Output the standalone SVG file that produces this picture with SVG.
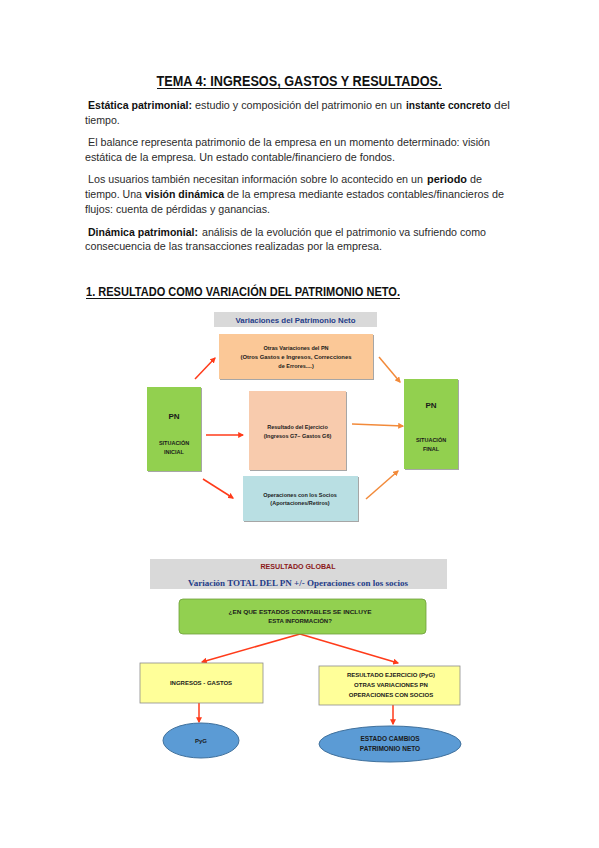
<svg xmlns="http://www.w3.org/2000/svg" width="599" height="848" viewBox="0 0 599 848">
<defs>
<style>
.body{font-family:"Liberation Sans",Arial,sans-serif;font-size:10.6px;fill:#2b2b2b}
.b{font-weight:bold;fill:#111;font-size:10.2px}
.h{font-family:"Liberation Sans",Arial,sans-serif;font-weight:bold;fill:#111}
.t{font-family:"Liberation Sans",Arial,sans-serif;font-weight:bold;fill:#1a1a1a;text-anchor:middle}
.red{stroke:#ff3b1a;stroke-width:1.5;fill:none}
.org{stroke:#f28a3a;stroke-width:1.5;fill:none}
</style>
<marker id="ar" viewBox="0 0 10 10" refX="8" refY="5" markerWidth="4" markerHeight="4" orient="auto"><path d="M0,0L10,5L0,10z" fill="#ff3b1a"/></marker>
<marker id="ao" viewBox="0 0 10 10" refX="8" refY="5" markerWidth="4" markerHeight="4" orient="auto"><path d="M0,0L10,5L0,10z" fill="#f28a3a"/></marker>
<filter id="sh" x="-5%" y="-5%" width="115%" height="120%"><feDropShadow dx="1" dy="1" stdDeviation="0.6" flood-color="#000" flood-opacity="0.35"/></filter>
</defs>
<rect width="599" height="848" fill="#fff"/>

<g id="texto">
<text class="h" x="299" y="86" font-size="14" text-anchor="middle" textLength="285" lengthAdjust="spacingAndGlyphs">TEMA 4: INGRESOS, GASTOS Y RESULTADOS.</text>
<line x1="157" y1="88.5" x2="442" y2="88.5" stroke="#111" stroke-width="1"/>
<text class="body b" x="88" y="109" textLength="104" lengthAdjust="spacingAndGlyphs">Estática patrimonial:</text>
<text class="body" x="195" y="109" textLength="207" lengthAdjust="spacingAndGlyphs">estudio y composición del patrimonio en un</text>
<text class="body b" x="406" y="109" textLength="85" lengthAdjust="spacingAndGlyphs">instante concreto</text>
<text class="body" x="494" y="109" textLength="16" lengthAdjust="spacingAndGlyphs">del</text>
<text class="body" x="85" y="124">tiempo.</text>
<text class="body" x="88" y="146" textLength="402" lengthAdjust="spacingAndGlyphs">El balance representa patrimonio de la empresa en un momento determinado: visión</text>
<text class="body" x="85" y="161" textLength="310" lengthAdjust="spacingAndGlyphs">estática de la empresa. Un estado contable/financiero de fondos.</text>
<text class="body" x="88" y="183" textLength="335" lengthAdjust="spacingAndGlyphs">Los usuarios también necesitan información sobre lo acontecido en un</text>
<text class="body b" x="427" y="183" textLength="40" lengthAdjust="spacingAndGlyphs">periodo</text>
<text class="body" x="470" y="183" textLength="12" lengthAdjust="spacingAndGlyphs">de</text>
<text class="body" x="85" y="198" textLength="57" lengthAdjust="spacingAndGlyphs">tiempo. Una</text>
<text class="body b" x="145" y="198" textLength="79" lengthAdjust="spacingAndGlyphs">visión dinámica</text>
<text class="body" x="227" y="198" textLength="277" lengthAdjust="spacingAndGlyphs">de la empresa mediante estados contables/financieros de</text>
<text class="body" x="85" y="213" textLength="185" lengthAdjust="spacingAndGlyphs">flujos: cuenta de pérdidas y ganancias.</text>
<text class="body b" x="88" y="236" textLength="110" lengthAdjust="spacingAndGlyphs">Dinámica patrimonial:</text>
<text class="body" x="202" y="236" textLength="284" lengthAdjust="spacingAndGlyphs">análisis de la evolución que el patrimonio va sufriendo como</text>
<text class="body" x="85" y="250" textLength="297" lengthAdjust="spacingAndGlyphs">consecuencia de las transacciones realizadas por la empresa.</text>
<text class="h" x="86" y="296" font-size="13" textLength="314" lengthAdjust="spacingAndGlyphs">1. RESULTADO COMO VARIACIÓN DEL PATRIMONIO NETO.</text>
<line x1="86" y1="298.5" x2="400" y2="298.5" stroke="#111" stroke-width="1"/>
</g>

<g id="conectores">
<line class="red" x1="195" y1="379" x2="215" y2="358" marker-end="url(#ar)"/>
<line class="org" x1="379" y1="357" x2="400" y2="382" marker-end="url(#ao)"/>
<line class="red" x1="206" y1="435" x2="243" y2="435" marker-end="url(#ar)"/>
<line class="org" x1="352" y1="424" x2="403" y2="426" marker-end="url(#ao)"/>
<line class="red" x1="203" y1="479" x2="233" y2="498" marker-end="url(#ar)"/>
<line class="org" x1="366" y1="499" x2="398" y2="471" marker-end="url(#ao)"/>
<line class="red" x1="300" y1="634" x2="202" y2="662" marker-end="url(#ar)"/>
<line class="red" x1="300" y1="634" x2="398" y2="663" marker-end="url(#ar)"/>
<line class="red" x1="199" y1="703" x2="199" y2="722" marker-end="url(#ar)"/>
<line class="red" x1="393" y1="705" x2="393" y2="724" marker-end="url(#ar)"/>
</g>

<g id="titulo-variaciones">
<rect x="214" y="312" width="163" height="15" fill="#d9d9d9"/>
<text x="295.5" y="322.5" font-family="Liberation Sans,Arial,sans-serif" font-weight="bold" font-size="7.5" fill="#1f3c88" text-anchor="middle" textLength="120" lengthAdjust="spacingAndGlyphs">Variaciones del Patrimonio Neto</text>
</g>

<g id="otras-variaciones">
<rect x="219" y="334" width="154" height="45" fill="#fbc897" filter="url(#sh)"/>
<text class="t" font-size="5.5" x="296" y="350">Otras Variaciones del PN</text>
<text class="t" font-size="5.5" x="296" y="359" textLength="111" lengthAdjust="spacingAndGlyphs">(Otros Gastos e Ingresos, Correcciones</text>
<text class="t" font-size="5.5" x="296" y="368">de Errores....)</text>
</g>

<g id="pn-inicial">
<rect x="147" y="387" width="54" height="84" fill="#92d050" filter="url(#sh)"/>
<text class="t" font-size="8" x="174" y="419">PN</text>
<text class="t" font-size="5.5" x="174" y="445">SITUACIÓN</text>
<text class="t" font-size="5.5" x="174" y="454">INICIAL</text>
</g>

<g id="resultado-ejercicio">
<rect x="249" y="391" width="97" height="79" fill="#f8cbad" filter="url(#sh)"/>
<text class="t" font-size="5.5" x="297.5" y="429">Resultado del Ejercicio</text>
<text class="t" font-size="5.5" x="297.5" y="438">(Ingresos G7– Gastos G6)</text>
</g>

<g id="pn-final">
<rect x="404" y="379" width="54" height="90" fill="#92d050" filter="url(#sh)"/>
<text class="t" font-size="8" x="431" y="408">PN</text>
<text class="t" font-size="5.5" x="431" y="442">SITUACIÓN</text>
<text class="t" font-size="5.5" x="431" y="451">FINAL</text>
</g>

<g id="operaciones-socios">
<rect x="243" y="476" width="115" height="45" fill="#b9dfe3" filter="url(#sh)"/>
<text class="t" font-size="5.5" x="300" y="497">Operaciones con los Socios</text>
<text class="t" font-size="5.5" x="300" y="505">(Aportaciones/Retiros)</text>
</g>

<g id="resultado-global">
<rect x="150" y="559" width="297" height="30" fill="#d9d9d9"/>
<text x="298" y="568.5" font-family="Liberation Sans,Arial,sans-serif" font-weight="bold" font-size="7" fill="#8b1a1a" text-anchor="middle" textLength="75" lengthAdjust="spacingAndGlyphs">RESULTADO GLOBAL</text>
<text x="298" y="586" font-family="Liberation Serif,Times New Roman,serif" font-weight="bold" font-size="8.5" fill="#1f3c88" text-anchor="middle" textLength="220" lengthAdjust="spacingAndGlyphs">Variación TOTAL DEL PN +/- Operaciones con los socios</text>
</g>

<g id="pregunta">
<rect x="179" y="599" width="247" height="35" rx="4" fill="#92d050" stroke="#6f9e3a" stroke-width="0.8"/>
<text class="t" font-size="6" x="300" y="614" textLength="143" lengthAdjust="spacingAndGlyphs">¿EN QUE ESTADOS CONTABLES SE INCLUYE</text>
<text class="t" font-size="6" x="300" y="623">ESTA INFORMACIÓN?</text>
</g>

<g id="ingresos-gastos">
<rect x="140" y="663" width="123" height="40" fill="#ffff99" stroke="#8c8c8c" stroke-width="0.8"/>
<text class="t" font-size="6" x="201" y="685">INGRESOS - GASTOS</text>
</g>

<g id="resultado-ejercicio-pyg">
<rect x="319" y="666" width="141" height="39" fill="#ffff99" stroke="#8c8c8c" stroke-width="0.8"/>
<text class="t" font-size="6" x="391" y="677">RESULTADO EJERCICIO (PyG)</text>
<text class="t" font-size="6" x="391" y="687">OTRAS VARIACIONES PN</text>
<text class="t" font-size="6" x="391" y="697">OPERACIONES CON SOCIOS</text>
</g>

<g id="pyg">
<ellipse cx="201" cy="740.5" rx="38" ry="17.5" fill="#5b9bd5" stroke="#41719c" stroke-width="1"/>
<text class="t" font-size="6" x="201" y="743">PyG</text>
</g>

<g id="ecpn">
<ellipse cx="390" cy="744" rx="71" ry="18" fill="#5b9bd5" stroke="#41719c" stroke-width="1"/>
<text class="t" font-size="6.5" x="390" y="741">ESTADO CAMBIOS</text>
<text class="t" font-size="6.5" x="390" y="751">PATRIMONIO NETO</text>
</g>
</svg>
